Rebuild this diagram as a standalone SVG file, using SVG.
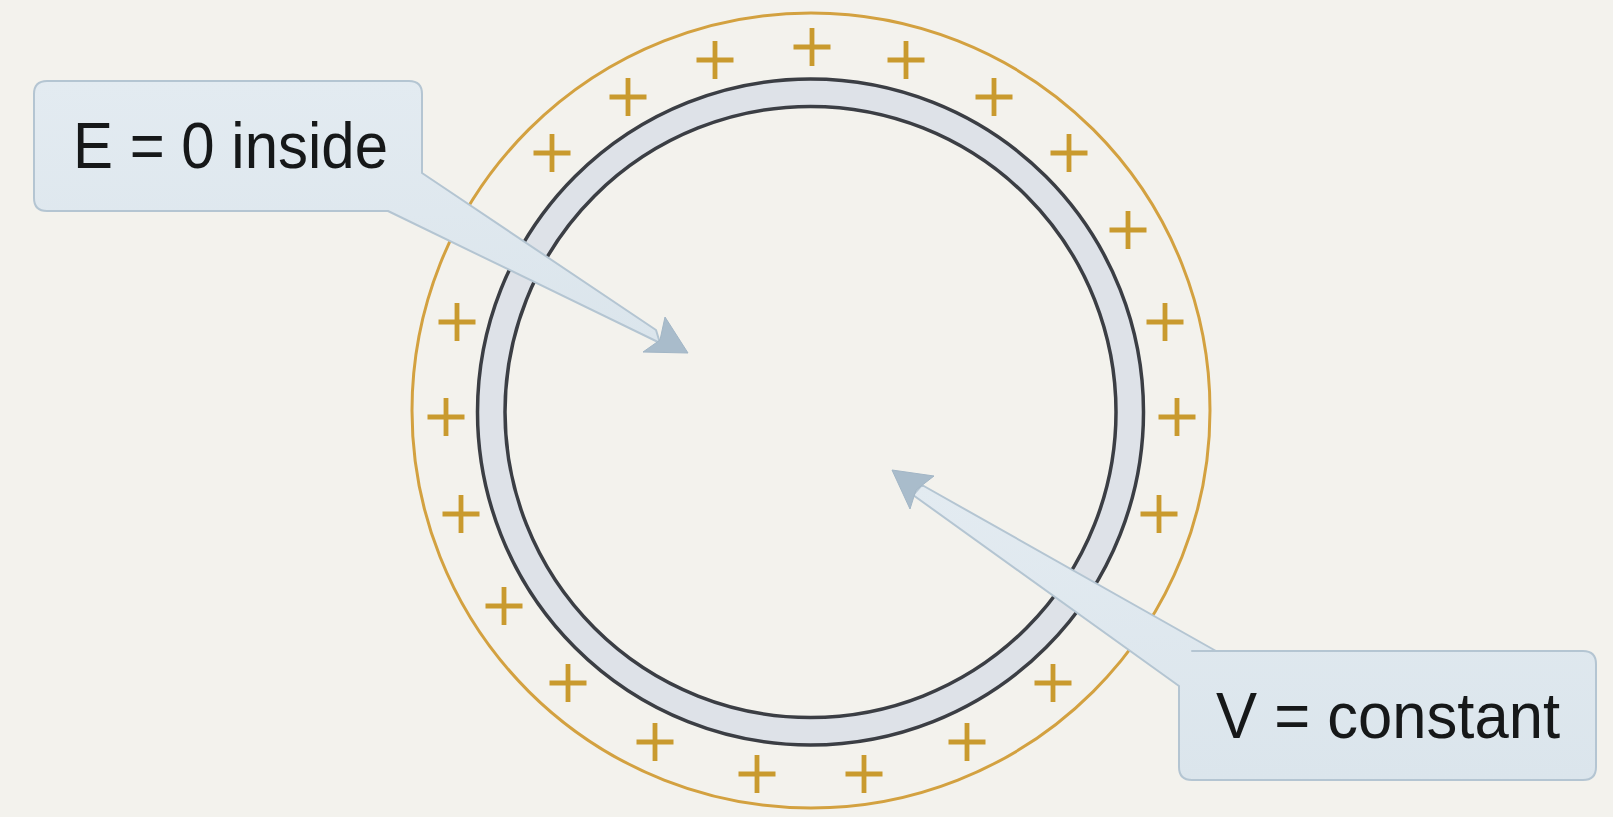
<svg xmlns="http://www.w3.org/2000/svg" width="1613" height="817" viewBox="0 0 1613 817">
<defs>
<style>
.plus{fill:none;stroke:#c99a2e;stroke-width:4.8;stroke-linecap:butt}
.orange{fill:none;stroke:#d3a140;stroke-width:3}
.dark{fill:none;stroke:#3b3e44;stroke-width:3.5}
.band{fill:none;stroke:#dee2e8;stroke-width:26}
.callout{fill:url(#cg);stroke:#b4c5d2;stroke-width:2;stroke-linejoin:round}
.head{fill:#a9bccb;stroke:#a2b6c6;stroke-width:1;stroke-linejoin:round}
.lbl{font-family:"Liberation Sans",Arial,sans-serif;font-size:64px;fill:#161819}
</style>
<linearGradient id="cg" x1="0" y1="0" x2="0" y2="1">
<stop offset="0" stop-color="#e3ebf1"/>
<stop offset="1" stop-color="#dbe5ec"/>
</linearGradient>
<path id="p" d="M-18.5,0 H18.5 M0,-19 V19" class="plus"/>
</defs>
<rect width="1613" height="817" fill="#f3f2ed"/>
<g id="sphere">
<ellipse cx="811" cy="410.5" rx="399" ry="397.5" class="orange"/>
<circle cx="810.5" cy="412" r="319" class="band"/>
<circle cx="810.5" cy="412" r="333" class="dark"/>
<circle cx="810.5" cy="412" r="305.5" class="dark"/>
</g>
<g id="charges">
<use href="#p" x="812" y="47"/>
<use href="#p" x="715" y="60"/>
<use href="#p" x="906" y="60"/>
<use href="#p" x="628" y="97"/>
<use href="#p" x="994" y="97"/>
<use href="#p" x="552" y="153"/>
<use href="#p" x="1069" y="153"/>
<use href="#p" x="1128" y="230"/>
<use href="#p" x="457" y="322"/>
<use href="#p" x="1165" y="322"/>
<use href="#p" x="446" y="417"/>
<use href="#p" x="1177" y="417"/>
<use href="#p" x="461" y="514"/>
<use href="#p" x="1159" y="514"/>
<use href="#p" x="504" y="606"/>
<use href="#p" x="568" y="683"/>
<use href="#p" x="1053" y="683"/>
<use href="#p" x="655" y="742"/>
<use href="#p" x="967" y="742"/>
<use href="#p" x="757" y="774"/>
<use href="#p" x="864" y="774"/>
</g>
<g id="callout-E">
<path class="callout" d="M47,81 H409 Q422,81 422,94 V173 L656,330 L660,343 L388,211 H47 Q34,211 34,198 V94 Q34,81 47,81 Z"/>
<text class="lbl" x="73" y="168" textLength="315" lengthAdjust="spacingAndGlyphs">E = 0 inside</text>
</g>
<g id="callout-V">
<path class="callout" d="M1192,651 H1583 Q1596,651 1596,664 V767 Q1596,780 1583,780 H1192 Q1179,780 1179,767 V686 L913,495 L922,485 L1216,651 Z"/>
<text class="lbl" x="1216" y="738" textLength="344" lengthAdjust="spacingAndGlyphs">V = constant</text>
</g>
<g id="connectors">
<polygon class="head" points="688,353 665,317 660,340 643,352"/>
<polygon class="head" points="892,470 934,476 916,490 910,509"/>
</g>
</svg>
